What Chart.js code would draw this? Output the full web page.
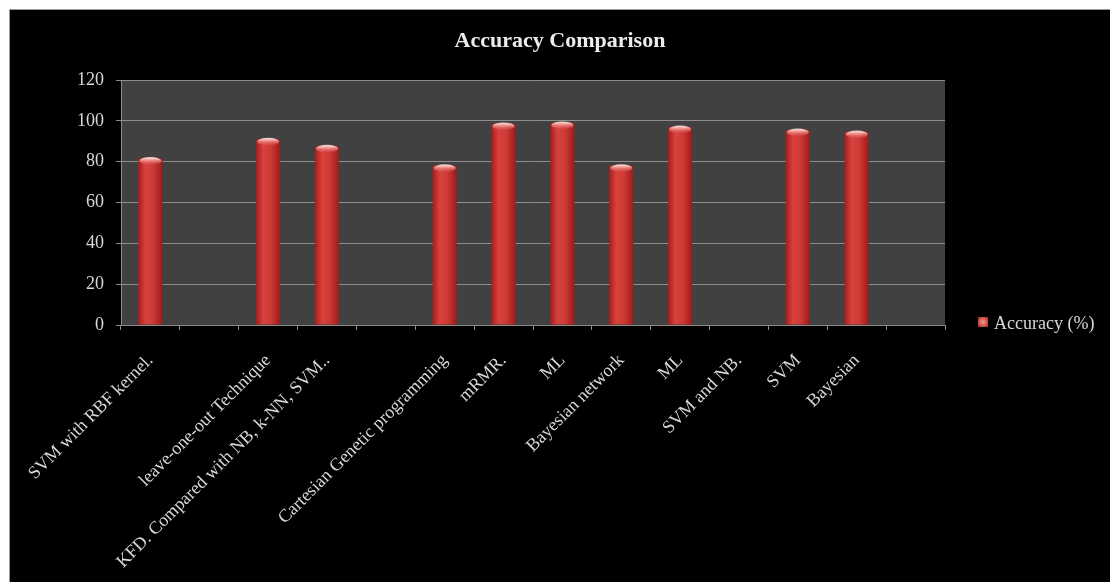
<!DOCTYPE html>
<html>
<head>
<meta charset="utf-8">
<script src="https://cdn.jsdelivr.net/npm/chart.js@4/dist/chart.umd.min.js"></script>
<style>
  html, body { margin: 0; padding: 0; background: #ffffff; width: 1110px; height: 582px; overflow: hidden; }
  #frame { position: absolute; left: 9px; top: 9px; width: 1101px; height: 573px; background: #000; border-top: 1px solid #9a9a9a; border-left: 1px solid #9a9a9a; box-sizing: border-box; }
  #c { position: absolute; left: 10px; top: 10px; }
</style>
</head>
<body>
<div id="frame"></div>
<canvas id="c" width="1100" height="572"></canvas>
<script>
const chartTitle = "Accuracy Comparison";
const seriesName = "Accuracy (%)";
const categories = [
  "SVM with RBF kernel.",
  "",
  "leave-one-out Technique",
  "KFD. Compared with NB, k-NN, SVM..",
  "",
  "Cartesian Genetic programming",
  "mRMR.",
  "ML",
  "Bayesian network",
  "ML",
  "SVM and NB.",
  "SVM",
  "Bayesian",
  ""
];
const accuracy = [81.5, null, 91, 87.5, null, 78, 98.5, 99, 78, 97, null, 95.5, 94.5, null];
const yTicks = [0, 20, 40, 60, 80, 100, 120];

const SERIF = '"Liberation Serif", "Times New Roman", serif';
const TXT = '#d8d8d8';

function barGradient(ctx) {
  const chart = ctx.chart;
  const xs = chart.scales && chart.scales.x;
  if (!xs || ctx.dataIndex === undefined) return '#c43030';
  const cx = xs.getPixelForValue(ctx.dataIndex);
  const slot = xs.width / categories.length;
  const w = slot * 0.41;
  if (!isFinite(cx) || !isFinite(w) || w <= 0) return '#c43030';
  const g = chart.ctx.createLinearGradient(cx - w / 2, 0, cx + w / 2, 0);
  g.addColorStop(0, '#a41e1e');
  g.addColorStop(0.3, '#d8423c');
  g.addColorStop(0.6, '#cf3a36');
  g.addColorStop(1, '#9c1a1a');
  return g;
}

const plotBg = {
  id: 'plotBg',
  beforeDraw(chart) {
    const a = chart.chartArea, c = chart.ctx;
    c.save();
    c.fillStyle = '#414141';
    c.fillRect(a.left, a.top, a.right - a.left, a.bottom - a.top);
    c.restore();
  }
};

const barCaps = {
  id: 'barCaps',
  afterDatasetsDraw(chart) {
    const c = chart.ctx;
    const meta = chart.getDatasetMeta(0);
    meta.data.forEach((el, i) => {
      if (accuracy[i] === null) return;
      const p = el.getProps(['x', 'y', 'width'], true);
      if (!isFinite(p.x) || !isFinite(p.y) || !isFinite(p.width)) return;
      c.save();
      const g = c.createLinearGradient(0, p.y, 0, p.y + 7);
      g.addColorStop(0, 'rgba(255,205,200,0.95)');
      g.addColorStop(1, 'rgba(230,90,85,0)');
      c.fillStyle = g;
      c.beginPath();
      c.ellipse(p.x, p.y + 2.5, Math.max(1, p.width / 2 - 1), 4, 0, 0, Math.PI * 2);
      c.fill();
      c.restore();
    });
  }
};

const sideLegend = {
  id: 'sideLegend',
  afterDraw(chart) {
    const c = chart.ctx;
    const a = chart.chartArea;
    const y0 = chart.scales.y.getPixelForValue(0);
    c.save();
    const sx = a.right + 33, sy = y0 - 8;
    const g = c.createRadialGradient(sx + 5, sy + 5, 1, sx + 5, sy + 5, 7);
    g.addColorStop(0, '#f08a80');
    g.addColorStop(1, '#a82020');
    c.fillStyle = g;
    c.fillRect(sx, sy, 10, 10);
    c.fillStyle = TXT;
    c.font = '18px ' + SERIF;
    c.textBaseline = 'middle';
    c.textAlign = 'left';
    c.fillText(chart.data.datasets[0].label, a.right + 49, y0 - 1);
    c.restore();
  }
};

new Chart(document.getElementById('c'), {
  type: 'bar',
  data: {
    labels: categories,
    datasets: [{
      label: seriesName,
      data: accuracy,
      backgroundColor: barGradient,
      borderWidth: 0,
      categoryPercentage: 1.0,
      barPercentage: 0.41
    }]
  },
  options: {
    responsive: false,
    animation: false,
    devicePixelRatio: 1,
    layout: { padding: 0 },
    plugins: {
      legend: { display: false },
      tooltip: { enabled: false },
      title: {
        display: true,
        text: chartTitle,
        color: '#ececec',
        font: { family: SERIF, size: 22, weight: 'bold', lineHeight: 1.2 },
        padding: { top: 18, bottom: 25.6 }
      }
    },
    scales: {
      x: {
        offset: true,
        grid: { display: true, drawOnChartArea: false, drawTicks: true, tickLength: 5, color: '#8a8a8a', offset: true },
        border: { display: true, color: '#8a8a8a', width: 1 },
        ticks: {
          autoSkip: false,
          maxRotation: 45,
          minRotation: 45,
          color: TXT,
          padding: 20,
          font: { family: SERIF, size: 18 }
        },
        afterFit(scale) { scale.height = 257; scale.paddingLeft = 0; scale.paddingRight = 0; }
      },
      y: {
        min: 0,
        max: 120,
        afterBuildTicks(scale) { scale.ticks = yTicks.map(v => ({ value: v })); },
        grid: { color: '#8e8e8e', lineWidth: 1, drawTicks: true, tickLength: 5 },
        border: { display: true, color: '#8a8a8a', width: 1 },
        ticks: {
          color: TXT,
          padding: 12,
          font: { family: SERIF, size: 18 }
        },
        afterFit(scale) { scale.width = 111; }
      },
      legendSpace: {
        type: 'linear',
        position: 'right',
        display: true,
        grid: { display: false, drawTicks: false },
        border: { display: false },
        ticks: { display: false },
        afterFit(scale) { scale.width = 165; }
      }
    }
  },
  plugins: [plotBg, barCaps, sideLegend]
});
</script>
</body>
</html>
